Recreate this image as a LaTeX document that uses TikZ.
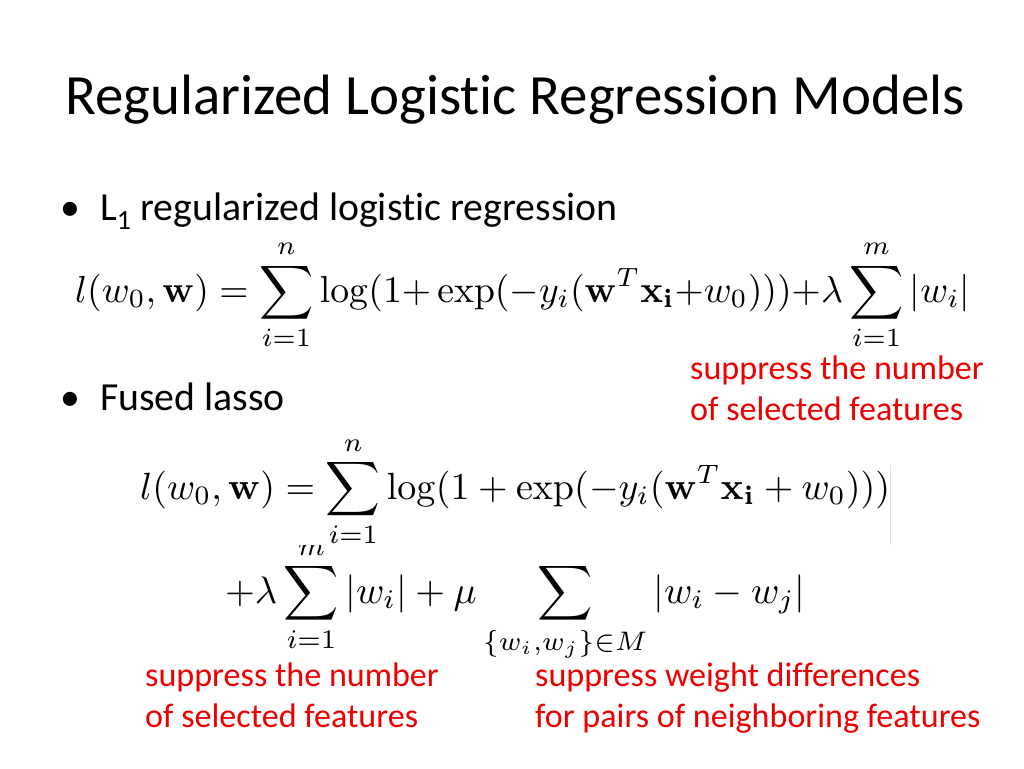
\documentclass[tikz,border=0pt]{standalone}
\usepackage[no-math]{fontspec}
\setmainfont{Carlito}[Ligatures=NoCommon]
\usepackage{amsmath,graphicx}
\definecolor{annot}{RGB}{236,0,0}
\tikzset{
  slidetitle/.style={anchor=base west, inner sep=0pt, font=\fontsize{56.9}{68}\selectfont},
  bulletitem/.style={anchor=base west, inner sep=0pt, font=\fontsize{39.8}{48}\selectfont},
  annotation/.style={anchor=base west, inner sep=0pt, align=left, text=annot, font=\fontsize{34.1}{41}\selectfont},
  formula/.style={anchor=west, inner sep=0pt}
}
\begin{document}
\begin{tikzpicture}[x=1pt,y=-1pt]
  \useasboundingbox (0,0) rectangle (1024,768);
  % title
  \node[slidetitle] (title) at (65,114) {Regularized Logistic Regression Models};
  % L1 regularized
  \node[bulletitem] (dot1) at (60,220) {\textbullet};
  \node[bulletitem] (item1) at (100,220) {L\textsubscript{1} regularized logistic regression};
  \node[formula] (eqa) at (75,295) {\resizebox{895pt}{!}{$\displaystyle
    l(w_0,\mathbf{w})=\sum_{i=1}^{n}\log(1{+}\exp(-y_i(\mathbf{w}^T\mathbf{x_i}{+}w_0))){+}\lambda\sum_{i=1}^{m}|w_i|$}};
  \node[annotation] (note1) at (690,420) {suppress the number\\of selected features};
  % fused lasso
  \node[bulletitem] (dot2) at (60,410) {\textbullet};
  \node[bulletitem] (item2) at (100,410) {Fused lasso};
  \node[formula] (eqc) at (225,601) {\resizebox{580pt}{!}{$\displaystyle
    +\lambda\sum_{i=1}^{m}|w_i|+\mu\sum_{\{w_i,w_j\}\in M}|w_i-w_j|$}};
  \fill[white] (130,430) rectangle (891,545);
  \draw[black!12, line width=1pt] (890,465) -- (890,545);
  \node[formula] (eqb) at (140,492) {\resizebox{750pt}{!}{$\displaystyle
    l(w_0,\mathbf{w})=\sum_{i=1}^{n}\log(1+\exp(-y_i(\mathbf{w}^T\mathbf{x_i}+w_0)))$}};
  \node[annotation] (note2) at (145,727) {suppress the number\\of selected features};
  \node[annotation] (note3) at (535,727) {suppress weight differences\\for pairs of neighboring features};
\end{tikzpicture}
\end{document}
